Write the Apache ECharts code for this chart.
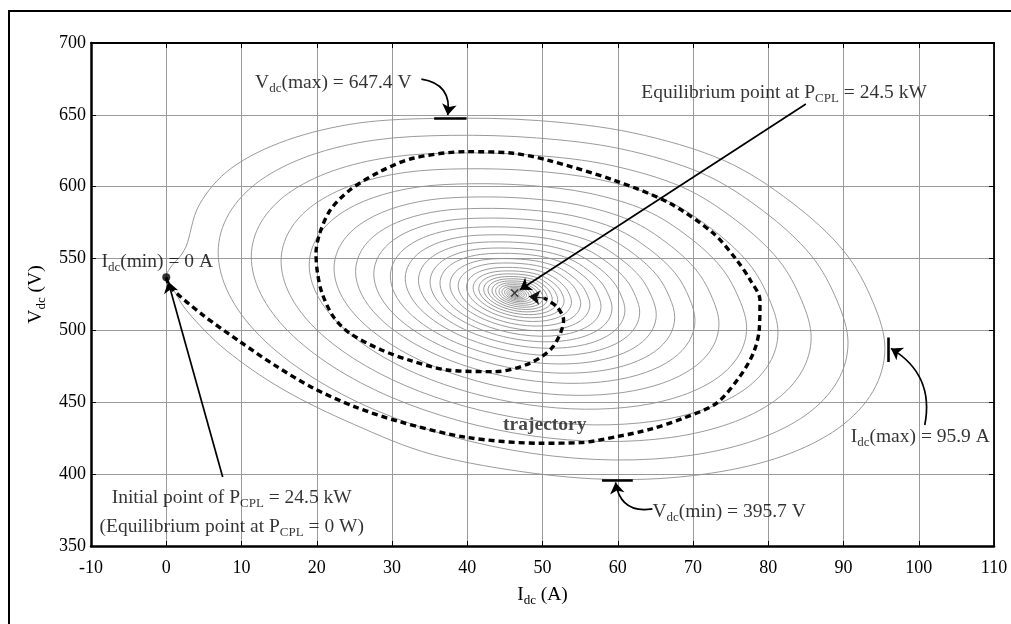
<!DOCTYPE html>
<html><head><meta charset="utf-8">
<script src="https://cdn.jsdelivr.net/npm/echarts@6/dist/echarts.min.js"></script>
<style>html,body{margin:0;padding:0;background:#fff}#c{width:1011px;height:624px}</style>
</head><body><div id="c"></div>
<script>
// ---- axes ----
const X_MIN = -10, X_MAX = 110, X_STEP = 10;
const Y_MIN = 350, Y_MAX = 700, Y_STEP = 50;

// ---- contour rings: read ring shape (offsets from centre, unit ring) and read ring sizes ----
const RING_CENTER = [46.5, 525.5];
const RING_SHAPE_DI = [49.0, 47.4, 43.5, 36.5, 27.5, 15.5, 3.0, -9.5, -20.8, -30.4, -37.8, -42.4, -44.0, -42.4, -37.8, -30.4, -20.8, -9.5, 2.5, 14.5, 25.8, 35.4, 42.8, 47.4];
const RING_SHAPE_DV = [-38.0, -5.6, 30, 64, 93, 112, 120.5, 122.5, 118.9, 107.0, 87.6, 62.0, 32.0, -0.4, -32.9, -63.5, -89.9, -110.4, -123.5, -128.5, -124.9, -113.0, -93.6, -68.0];
const RING_SCALES = [0.9, 0.8, 0.71, 0.625, 0.55, 0.485, 0.43, 0.38, 0.335, 0.295, 0.26, 0.23, 0.2, 0.175, 0.15, 0.13, 0.113, 0.098, 0.085, 0.073, 0.062, 0.052, 0.043, 0.035, 0.028, 0.022, 0.016, 0.011, 0.007];

// outermost contour (passes through the initial point)
const OUTER_RING_I = [95.5, 93.9, 90.0, 83.0, 74.0, 62.0, 49.5, 37.0, 25.7, 16.1, 8.7, 4.4, 2.6, 0.6, 0.0, 0.9, 3.0, 8.0, 15.5, 25.0, 35.5, 49.0, 61.0, 72.3, 81.9, 89.3, 93.9];
const OUTER_RING_V = [487.5, 519.9, 555.5, 589.5, 618.5, 637.5, 646.0, 647.6, 644.4, 632.5, 613.1, 587.5, 558.0, 544.0, 537.0, 529.0, 512.0, 486.0, 459.0, 434.5, 413.5, 400.5, 396.2, 400.6, 412.5, 431.9, 457.5];

// ---- trajectory ----
const TRAJ_I = [0, 0.5, 4.8, 9.8, 14.5, 19.5, 25, 31, 39.9, 49.7, 55, 59.9, 64.5, 68.5, 73.1, 76.2, 78, 78.8, 78.9, 77.6, 75.8, 72.7, 66.9, 59.4, 50.6, 46.1, 39.9, 32.8, 28.4, 24.4, 21.8, 20.4, 19.9, 20.1, 20.7, 22.2, 24.4, 28.6, 32.5, 37.3, 43.7, 48.3, 51.4, 52.8, 51.9, 50.2];
const TRAJ_V = [537, 530.4, 511, 492.2, 475.5, 460, 447, 436.5, 425.6, 421.5, 421.9, 426.1, 431.5, 438.5, 449.3, 467.8, 484, 500.3, 521.2, 535.1, 549, 567.6, 588.5, 604.7, 618.6, 623.3, 624.4, 619.8, 610.5, 597.7, 583.8, 567.6, 553.7, 540, 526, 509.6, 498, 486.4, 479, 472.5, 471.3, 477.1, 488.7, 507.3, 516.5, 522.5];
const TRAJ_END = [[50.2, 522.5], [48.2, 523.6]];

// ---- key points ----
const INITIAL_POINT = [0, 537];
const EQUILIBRIUM = [46.3, 526];
const VMAX = 647.4, VMAX_BAR_I = [35.6, 39.9];
const VMIN = 395.7, VMIN_BAR_I = [57.9, 62.0];
const IMAX = 95.9, IMAX_BAR_V = [478, 495];

// ---- annotation arrows (data coordinates) ----
const ARROWS = [
  {from: [33.9, 674.9], to: [37.4, 649.8], curve: 0.5},
  {from: [64.6, 375.8], to: [59.7, 394.2], curve: 0.5},
  {from: [100.8, 434.2], to: [96.3, 487.5], curve: -0.35},
  {from: [7.5, 398], to: [0.25, 534], curve: 0},
  {from: [85, 657.6], to: [47.0, 528.3], curve: 0}
];

// ---- annotation texts ----
const LABELS = [
  {at: [22.2, 672.2], text: '{n|V}{s|dc}{n|(max) = 647.4 V}'},
  {at: [82.1, 665.2], text: '{n|Equilibrium point at P}{s|CPL}{n| = 24.5 kW}'},
  {at: [-1.2, 547.6], text: '{n|I}{s|dc}{n|(min) = 0 A}'},
  {at: [100.2, 425.9], text: '{n|I}{s|dc}{n|(max) = 95.9 A}'},
  {at: [74.8, 373.7], text: '{n|V}{s|dc}{n|(min) = 395.7 V}'},
  {at: [50.3, 434.2], text: '{b|trajectory}'},
  {at: [8.7, 383.4], text: '{n|Initial point of P}{s|CPL}{n| = 24.5 kW}'},
  {at: [8.7, 363.3], text: '{n|(Equilibrium point at P}{s|CPL}{n| = 0 W)}'}
];

const FONT = 'Liberation Serif';
const RICH = {
  n: {fontFamily: FONT, fontSize: 19.5, color: '#000', lineHeight: 24, textBorderWidth: 0},
  s: {fontFamily: FONT, fontSize: 13, color: '#000', lineHeight: 13, verticalAlign: 'bottom', textBorderWidth: 0},
  b: {fontFamily: FONT, fontSize: 19.5, fontWeight: 'bold', color: '#1a1a1a', lineHeight: 24, textBorderWidth: 0}
};

const chart = echarts.init(document.getElementById('c'), null, {renderer: 'canvas'});

const RING_STYLE = {fill: null, stroke: '#8e8e8e', lineWidth: 0.9};
// closed smooth curve through the given pixel points (Catmull-Rom as cubic Beziers)
function closedCurve(pts, style) {
  const n = pts.length, children = [];
  for (let i = 0; i < n; i++) {
    const p0 = pts[(i - 1 + n) % n], p1 = pts[i], p2 = pts[(i + 1) % n], p3 = pts[(i + 2) % n];
    children.push({type: 'bezierCurve', silent: true, shape: {
      x1: p1[0], y1: p1[1], x2: p2[0], y2: p2[1],
      cpx1: p1[0] + (p2[0] - p0[0]) / 6, cpy1: p1[1] + (p2[1] - p0[1]) / 6,
      cpx2: p2[0] - (p3[0] - p1[0]) / 6, cpy2: p2[1] - (p3[1] - p1[1]) / 6
    }, style: style});
  }
  return {type: 'group', children: children};
}
function ringItem(params, api) {
  const s = api.value(2);
  const pts = RING_SHAPE_DI.map((d, i) => api.coord([RING_CENTER[0] + s * d, RING_CENTER[1] + s * RING_SHAPE_DV[i]]));
  return closedCurve(pts, RING_STYLE);
}
function outerItem(params, api) {
  const pts = OUTER_RING_I.map((x, i) => api.coord([x, OUTER_RING_V[i]]));
  return closedCurve(pts, RING_STYLE);
}

const commonX = {type: 'value', min: X_MIN, max: X_MAX, interval: X_STEP};
const commonY = {type: 'value', min: Y_MIN, max: Y_MAX, interval: Y_STEP};
const TICK = {show: true, inside: true, length: 5, lineStyle: {color: '#000', width: 1}};
const TICK_LABEL = {color: '#000', fontFamily: FONT, fontSize: 18, hideOverlap: false};
const SPLIT = {show: true, lineStyle: {color: '#9a9a9a', width: 1}};

const option = {
  animation: false,
  backgroundColor: '#fff',
  grid: {left: 91, right: 17, top: 43, bottom: 78, containLabel: false, outerBoundsMode: 'none'},
  graphic: [{type: 'rect', silent: true, z: 100, shape: {x: 9, y: 11, width: 1100, height: 700}, style: {fill: 'none', stroke: '#000', lineWidth: 2}}],
  xAxis: [
    Object.assign({}, commonX, {
      position: 'bottom',
      axisLine: {show: true, onZero: false, lineStyle: {color: '#000', width: 2.5}},
      axisTick: TICK,
      axisLabel: Object.assign({margin: 13}, TICK_LABEL),
      splitLine: SPLIT,
      name: '{n|I}{s|dc}{n| (A)}', nameLocation: 'middle', nameGap: 37,
      nameTextStyle: {rich: RICH}
    }),
    Object.assign({}, commonX, {
      position: 'top',
      axisLine: {show: true, onZero: false, lineStyle: {color: '#000', width: 2}},
      axisTick: TICK, axisLabel: {show: false}, splitLine: {show: false}
    })
  ],
  yAxis: [
    Object.assign({}, commonY, {
      position: 'left',
      axisLine: {show: true, onZero: false, lineStyle: {color: '#000', width: 2.5}},
      axisTick: TICK,
      axisLabel: Object.assign({margin: 5}, TICK_LABEL),
      splitLine: SPLIT,
      name: '{n|V}{s|dc}{n| (V)}', nameLocation: 'middle', nameGap: 43, nameRotate: 90,
      nameTextStyle: {rich: RICH}
    }),
    Object.assign({}, commonY, {
      position: 'right',
      axisLine: {show: true, onZero: false, lineStyle: {color: '#000', width: 1.8}},
      axisTick: TICK, axisLabel: {show: false}, splitLine: {show: false}
    })
  ],
  series: [
    {type: 'custom', coordinateSystem: 'cartesian2d', silent: true, z: 1,
     data: RING_SCALES.map(s => [RING_CENTER[0], RING_CENTER[1], s]), encode: {x: 0, y: 1},
     renderItem: ringItem},
    {type: 'custom', coordinateSystem: 'cartesian2d', silent: true, z: 1,
     data: [[RING_CENTER[0], RING_CENTER[1]]], encode: {x: 0, y: 1}, renderItem: outerItem},
    {type: 'line', silent: true, z: 3, smooth: 0.3, symbol: 'none',
     data: TRAJ_I.map((x, i) => [x, TRAJ_V[i]]),
     lineStyle: {color: '#000', width: 3.4, type: [6, 4], cap: 'butt'}},
    {type: 'lines', coordinateSystem: 'cartesian2d', silent: true, z: 4,
     symbol: ['none', 'arrow'], symbolSize: [0, 11],
     lineStyle: {color: '#111', width: 1, opacity: 1},
     data: [{coords: TRAJ_END}]},
    {type: 'lines', coordinateSystem: 'cartesian2d', silent: true, z: 5,
     symbol: ['none', 'arrow'], symbolSize: [0, 11],
     lineStyle: {color: '#000', width: 1.7, opacity: 1},
     data: ARROWS.map(a => ({coords: [a.from, a.to], lineStyle: {curveness: a.curve}}))},
    {type: 'lines', coordinateSystem: 'cartesian2d', silent: true, z: 5,
     symbol: ['none', 'none'],
     lineStyle: {color: '#000', width: 2.6, opacity: 1},
     data: [
       {coords: [[VMAX_BAR_I[0], VMAX], [VMAX_BAR_I[1], VMAX]]},
       {coords: [[VMIN_BAR_I[0], VMIN], [VMIN_BAR_I[1], VMIN]]},
       {coords: [[IMAX, IMAX_BAR_V[0]], [IMAX, IMAX_BAR_V[1]]]}
     ]},
    {type: 'scatter', silent: true, z: 6, symbol: 'circle', symbolSize: 8,
     itemStyle: {color: '#000'}, data: [INITIAL_POINT]},
    {type: 'scatter', silent: true, z: 6,
     symbol: 'path://M0,1.2L1.2,0L5,3.8L8.8,0L10,1.2L6.2,5L10,8.8L8.8,10L5,6.2L1.2,10L0,8.8L3.8,5Z',
     symbolSize: 8, itemStyle: {color: '#111'}, data: [EQUILIBRIUM]},
    {type: 'scatter', silent: true, z: 7, symbol: 'circle', symbolSize: 0,
     itemStyle: {color: 'transparent'},
     label: {show: true, position: 'inside', align: 'center', verticalAlign: 'middle', color: '#000', textBorderWidth: 0, rich: RICH},
     data: LABELS.map(l => ({value: l.at, label: {formatter: l.text}}))}
  ]
};
chart.setOption(option);
</script>
</body></html>
